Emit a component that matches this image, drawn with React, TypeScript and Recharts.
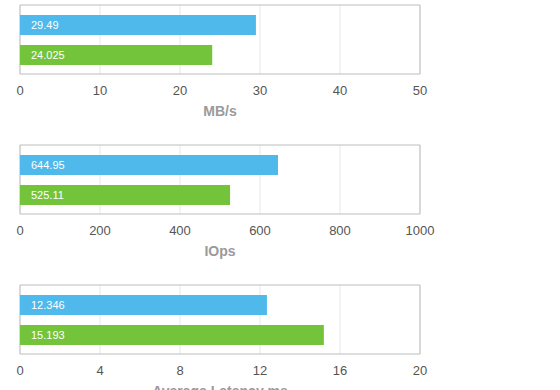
import { BarChart, Bar, XAxis, YAxis, CartesianGrid, Cell, LabelList } from 'recharts'

const categories = ['Run A', 'Run B']
const colors = ['#4eb9ea', '#74c43b']

const mbps = [29.49, 24.025]
const iops = [644.95, 525.11]
const latency = [12.346, 15.193]

const mbpsTicks = [0, 10, 20, 30, 40, 50]
const iopsTicks = [0, 200, 400, 600, 800, 1000]
const latencyTicks = [0, 4, 8, 12, 16, 20]

const titles = ['MB/s', 'IOps', 'Average Latency ms']

interface Props {
  values: number[]
  ticks: number[]
  title: string
}

function Panel({ values, ticks, title }: Props) {
  const data = categories.map((name, i) => ({ name, value: values[i] }))
  return (
    <BarChart
      width={560}
      height={140}
      data={data}
      layout="vertical"
      margin={{ top: 5, right: 140, bottom: 19, left: 20 }}
    >
      <CartesianGrid horizontal={false} stroke="#e8e8e8" />
      <CartesianGrid
        stroke="#bdbdbd"
        verticalCoordinatesGenerator={({ offset }: any) => [offset.left, offset.left + offset.width]}
        horizontalCoordinatesGenerator={({ offset }: any) => [offset.top, offset.top + offset.height]}
      />
      <XAxis
        type="number"
        domain={[ticks[0], ticks[ticks.length - 1]]}
        ticks={ticks}
        axisLine={false}
        tickLine={false}
        tickSize={6}
        tickMargin={6}
        height={47}
        tick={{ fontSize: 13, fill: '#555' }}
        label={{ value: title, position: 'insideBottom', offset: 5, fill: '#9a9a9a', fontSize: 14, fontWeight: 'bold' }}
      />
      <YAxis type="category" dataKey="name" hide padding={{ top: 5, bottom: 4 }} />
      <Bar dataKey="value" barSize={20} isAnimationActive={false}>
        {data.map((d, i) => (
          <Cell key={d.name} fill={colors[i]} />
        ))}
        <LabelList dataKey="value" position="insideLeft" offset={11} fill="#fff" fontSize={11} />
      </Bar>
    </BarChart>
  )
}

export default function App() {
  return (
    <div
      style={{
        position: 'fixed',
        top: 0,
        left: 0,
        width: 560,
        height: 390,
        overflow: 'hidden',
        background: '#fff',
        fontFamily: '"Liberation Sans", Arial, sans-serif',
      }}
    >
      <Panel values={mbps} ticks={mbpsTicks} title={titles[0]} />
      <Panel values={iops} ticks={iopsTicks} title={titles[1]} />
      <Panel values={latency} ticks={latencyTicks} title={titles[2]} />
    </div>
  )
}
